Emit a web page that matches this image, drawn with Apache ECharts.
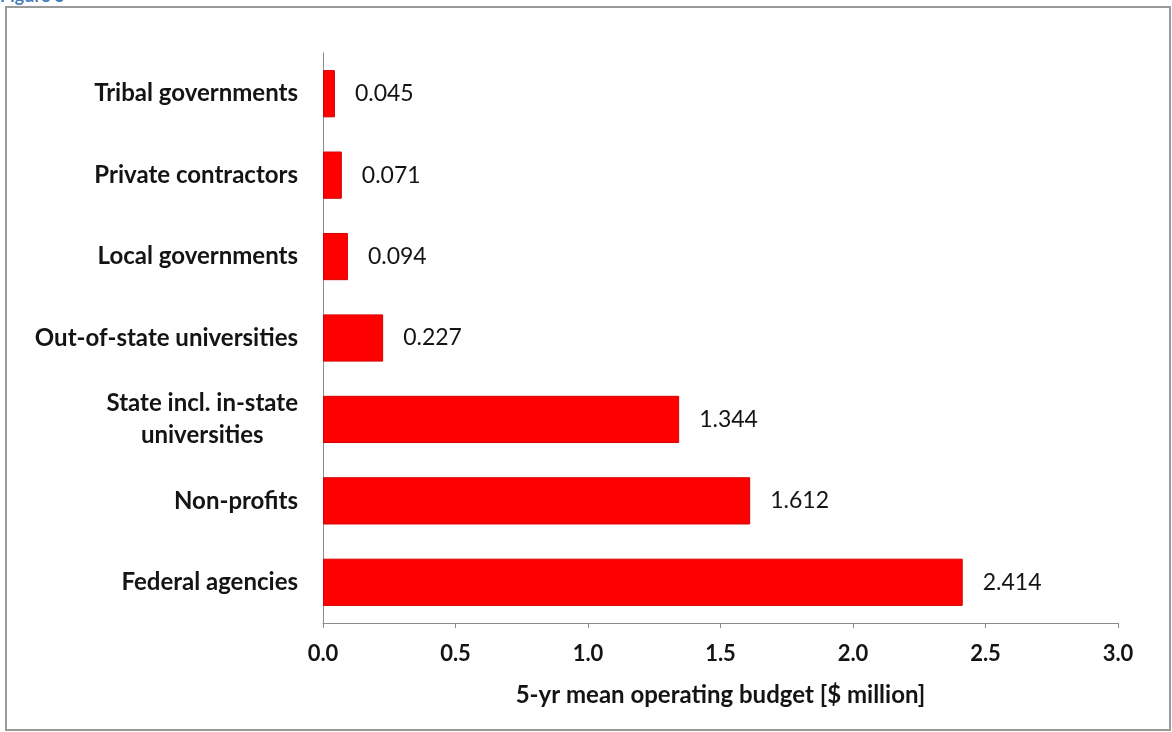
<!DOCTYPE html>
<html>
<head>
<meta charset="utf-8">
<script src="https://cdn.jsdelivr.net/npm/echarts@6/dist/echarts.min.js"></script>
<style>
  html, body { margin: 0; padding: 0; background: #ffffff; }
  #chart { width: 1172px; height: 732px; }
</style>
</head>
<body>
<div id="chart"></div>
<script>
// Budget categories, listed bottom to top along the category axis
const categories = [
  'Federal agencies',
  'Non-profits',
  'State incl. in-state\nuniversities',
  'Out-of-state universities',
  'Local governments',
  'Private contractors',
  'Tribal governments'
];
// 5-yr mean operating budget, $ million
const budgets = [2.414, 1.612, 1.344, 0.227, 0.094, 0.071, 0.045];
// Value axis ticks
const xTicks = [0.0, 0.5, 1.0, 1.5, 2.0, 2.5, 3.0];

const FONT = 'Lato';
const INK = '#141414';
const chart = echarts.init(document.getElementById('chart'), null, { renderer: 'canvas' });

chart.setOption({
  backgroundColor: '#ffffff',
  animation: false,
  graphic: [
    {
      type: 'text',
      left: 0,
      top: -13,
      style: { text: 'Figure 5', fill: '#4a7ebb', font: 'bold 18px ' + FONT }
    },
    {
      type: 'rect',
      shape: { x: 6, y: 7, width: 1164, height: 723 },
      style: { fill: 'none', stroke: '#9a9a9a', lineWidth: 2 },
      z: -1
    }
  ],
  grid: { left: 323, right: 54, top: 53, bottom: 109, containLabel: false },
  xAxis: {
    type: 'value',
    min: xTicks[0],
    max: xTicks[xTicks.length - 1],
    interval: xTicks[1] - xTicks[0],
    splitLine: { show: false },
    axisLine: { show: true, lineStyle: { color: '#8c8c8c', width: 1 } },
    axisTick: { show: true, length: 5, lineStyle: { color: '#8c8c8c' } },
    axisLabel: {
      margin: 20,
      color: INK,
      fontFamily: FONT,
      fontWeight: 'bold',
      fontSize: 22,
      formatter: v => v.toFixed(1)
    },
    name: '5-yr mean operating budget [$ million]',
    nameLocation: 'middle',
    nameGap: 60,
    nameTextStyle: { color: INK, fontFamily: FONT, fontWeight: 'bold', fontSize: 24 }
  },
  yAxis: {
    type: 'category',
    data: categories,
    axisLine: { show: true, lineStyle: { color: '#8c8c8c', width: 1 } },
    axisTick: { show: false },
    axisLabel: {
      margin: 25,
      color: INK,
      formatter: v => v.split('\n').map(s => '{c|' + s + '}').join('\n'),
      rich: {
        c: {
          align: 'center',
          fontFamily: FONT,
          fontWeight: 'bold',
          fontSize: 24,
          lineHeight: 32,
          color: INK
        }
      }
    }
  },
  series: [{
    type: 'bar',
    data: budgets,
    barCategoryGap: '42%',
    itemStyle: { color: '#ff0000', borderColor: '#d40000', borderWidth: 1 },
    label: {
      show: true,
      position: 'right',
      distance: 20,
      color: INK,
      fontFamily: FONT,
      fontSize: 23,
      formatter: p => p.value.toFixed(3)
    }
  }]
});
</script>
</body>
</html>
